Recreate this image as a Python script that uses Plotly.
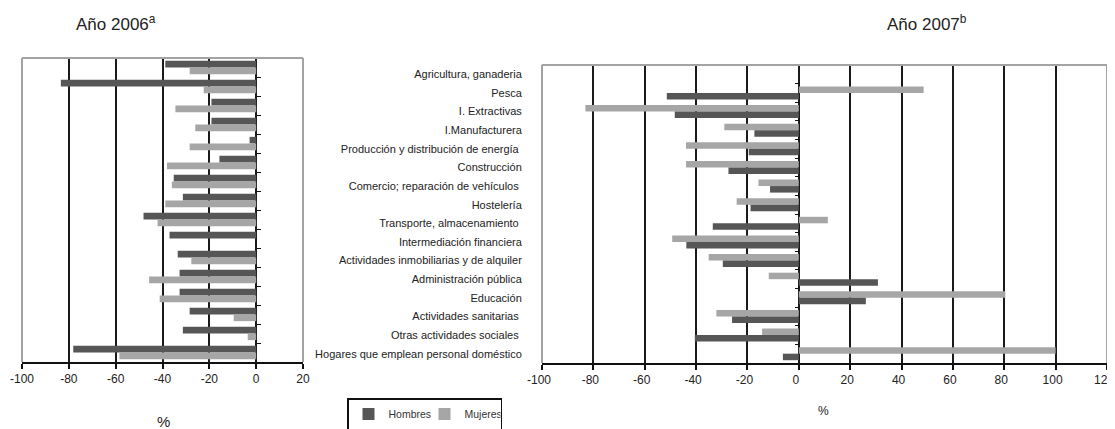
import plotly.graph_objects as go

categories = [
    "Agricultura, ganaderia", "Pesca", "I. Extractivas", "I.Manufacturera",
    "Producción y distribución de energía\u00a0", "Construcción",
    "Comercio; reparación de vehículos\u00a0", "Hostelería",
    "Transporte, almacenamiento\u00a0", "Intermediación financiera",
    "Actividades inmobiliarias y de alquiler", "Administración pública",
    "Educación", "Actividades sanitarias\u00a0", "Otras actividades sociales\u00a0",
    "Hogares que emplean personal doméstico",
]

hombres_2006 = [-38.8, -83.4, -19.1, -19.1, -2.8, -15.7, -35.2, -31.3,
                -48.1, -37.0, -33.5, -32.7, -32.7, -28.4, -31.3, -78.1]
mujeres_2006 = [-28.4, -22.4, -34.5, -26.0, -28.4, -38.1, -36.0, -38.8,
                -42.1, None, -27.7, -45.7, -41.2, -9.6, -3.6, -58.4]
hombres_2007 = [None, -51.4, -48.3, -17.3, -19.5, -27.4, -11.2, -18.8,
                -33.5, -43.8, -29.6, 30.8, 26.1, -26.0, -40.5, -6.2]
mujeres_2007 = [None, 48.6, -83.1, -29.0, -43.9, -43.9, -15.7, -24.2,
                11.3, -49.3, -35.1, -11.7, 80.4, -32.1, -14.3, 100.0]

x_ticks_2006 = [-100, -80, -60, -40, -20, 0, 20]
x_ticks_2007 = [-100, -80, -60, -40, -20, 0, 20, 40, 60, 80, 100, 120]

DARK = "#565656"
LIGHT = "#a6a6a6"
BORDER = "#a3a3a3"
GRID = "#1a1a1a"
FONT = "Liberation Sans Narrow, Arial Narrow, Liberation Sans, Arial, sans-serif"

# figure is placed inside the page body (8px default margin)
W, H, OFF = 1107, 421, 8


def fx(px):
    return (px - OFF) / W


def fy(py):
    return 1 - (py - OFF) / H


fig = go.Figure()

fig.add_trace(go.Bar(y=categories, x=hombres_2006, orientation="h", name="Hombres",
                     marker=dict(color=DARK, line=dict(width=0)), xaxis="x", yaxis="y"))
fig.add_trace(go.Bar(y=categories, x=mujeres_2006, orientation="h", name="Mujeres",
                     marker=dict(color=LIGHT, line=dict(width=0)), xaxis="x", yaxis="y"))
fig.add_trace(go.Bar(y=categories, x=mujeres_2007, orientation="h", name="Mujeres",
                     marker=dict(color=LIGHT, line=dict(width=0)), xaxis="x2", yaxis="y2",
                     showlegend=False))
fig.add_trace(go.Bar(y=categories, x=hombres_2007, orientation="h", name="Hombres",
                     marker=dict(color=DARK, line=dict(width=0)), xaxis="x2", yaxis="y2",
                     showlegend=False))
# helper trace (invisible) so the label axis of the 2007 panel knows its categories
fig.add_trace(go.Scatter(y=categories, x=[None] * len(categories), mode="markers",
                         xaxis="x2", yaxis="y3", showlegend=False, hoverinfo="skip",
                         marker=dict(opacity=0)))

xd1 = [fx(22), fx(303)]
xd2 = [fx(542), fx(1107)]
yd1 = [fy(362), fy(58)]
yd2 = [fy(363), fy(65)]
r1 = [-100, 20]
r2 = [-100, 120]


def zero_pos(dom, rng):
    return dom[0] + (0 - rng[0]) / (rng[1] - rng[0]) * (dom[1] - dom[0])


n = len(categories)
cat_range = [n - 0.5, -0.5]

xcommon = dict(showgrid=True, gridcolor=GRID, gridwidth=2, zeroline=True,
               zerolinecolor=GRID, zerolinewidth=2, showline=True, linecolor="#111",
               linewidth=1.5, ticks="outside", ticklen=5, tickwidth=1.5, tickcolor="#111",
               tickfont=dict(family=FONT, size=12, color="#222"), fixedrange=True,
               automargin=False, ticklabeloverflow="allow")

fig.update_layout(
    width=W, height=H,
    margin=dict(l=0, r=0, t=0, b=0, autoexpand=False),
    paper_bgcolor="white", plot_bgcolor="white",
    barmode="group", bargap=0.3, bargroupgap=0,
    font=dict(family=FONT, color="#222"),
    xaxis=dict(domain=xd1, range=r1, tickvals=x_ticks_2006,
               ticktext=[str(v) for v in x_ticks_2006], anchor="y", **xcommon),
    xaxis2=dict(domain=xd2, range=r2, tickvals=x_ticks_2007,
                ticktext=[str(v) for v in x_ticks_2007], anchor="y2",
                ticklabelshift=-3, **xcommon),
    yaxis=dict(domain=yd1, type="category", categoryorder="array", categoryarray=categories,
               range=cat_range, anchor="free", position=zero_pos(xd1, r1), side="right",
               showticklabels=False, ticks="outside", tickson="boundaries", ticklen=4,
               tickcolor="#111", tickwidth=1, showline=False, showgrid=False,
               fixedrange=True, automargin=False),
    yaxis2=dict(domain=yd2, type="category", categoryorder="array", categoryarray=categories,
                range=cat_range, anchor="free", position=zero_pos(xd2, r2), side="left",
                showticklabels=False, ticks="outside", tickson="boundaries", ticklen=4,
                tickcolor="#111", tickwidth=1, showline=False, showgrid=False,
                fixedrange=True, automargin=False),
    yaxis3=dict(domain=yd2, type="category", categoryorder="array", categoryarray=categories,
                range=cat_range, overlaying="y2", anchor="x2", side="left",
                showticklabels=True, ticks="outside", ticklen=17, tickcolor="rgba(0,0,0,0)",
                tickfont=dict(family=FONT, size=11, color="#222"),
                showline=False, showgrid=False, fixedrange=True, automargin=False),
    legend=dict(orientation="h", x=fx(347), y=fy(398), xanchor="left", yanchor="top",
                bordercolor="#111", borderwidth=1.5, bgcolor="white",
                font=dict(family=FONT, size=10.5, color="#333"),
                itemwidth=30, entrywidth=31, traceorder="normal"),
    showlegend=True,
)

# grey frame (left, top, right) for each panel
for xr, yr in (("x domain", "y domain"), ("x2 domain", "y2 domain")):
    fig.add_shape(type="line", xref=xr, yref=yr, x0=0, x1=0, y0=0, y1=1,
                  line=dict(color=BORDER, width=2), layer="above")
    fig.add_shape(type="line", xref=xr, yref=yr, x0=1, x1=1, y0=0, y1=1,
                  line=dict(color=BORDER, width=2), layer="above")
    fig.add_shape(type="line", xref=xr, yref=yr, x0=0, x1=1, y0=1, y1=1,
                  line=dict(color=BORDER, width=2), layer="above")

ann = dict(xref="paper", yref="paper", showarrow=False, xanchor="center", yanchor="middle")
fig.add_annotation(text="Año 2006<sup>a</sup>", x=fx(116), y=fy(23),
                   font=dict(family=FONT, size=17, color="#222"), **ann)
fig.add_annotation(text="Año 2007<sup>b</sup>", x=fx(927), y=fy(23),
                   font=dict(family=FONT, size=17, color="#222"), **ann)
fig.add_annotation(text="%", x=fx(163), y=fy(421),
                   font=dict(family=FONT, size=15, color="#222"), **ann)
fig.add_annotation(text="%", x=fx(823), y=fy(411),
                   font=dict(family=FONT, size=12, color="#222"), **ann)

fig.write_html("out.html")
